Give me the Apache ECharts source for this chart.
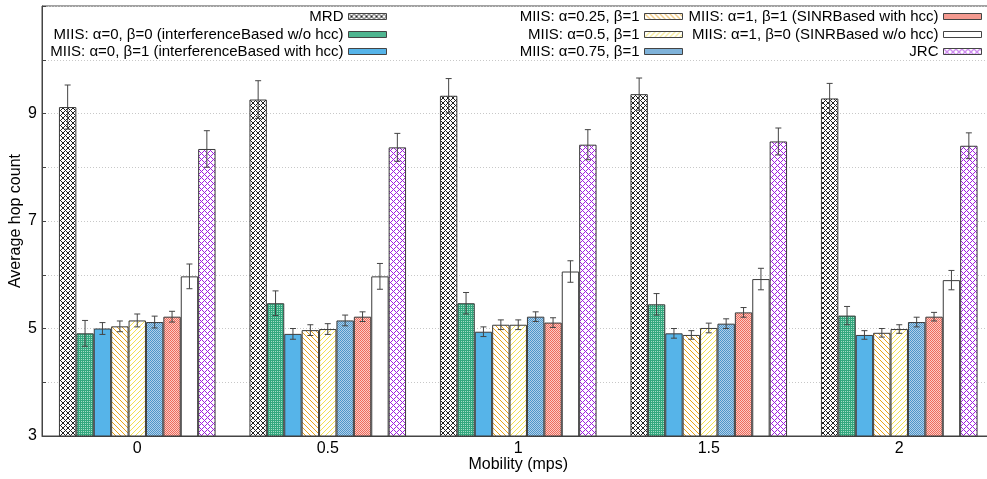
<!DOCTYPE html>
<html>
<head>
<meta charset="utf-8">
<script src="https://cdn.jsdelivr.net/npm/echarts@6/dist/echarts.min.js"></script>
<style>
html,body{margin:0;padding:0;background:#fff;}
#chart{width:987px;height:479px;}
</style>
</head>
<body>
<div id="chart"></div>
<script>
// ---- data ----
const categories = ['0', '0.5', '1', '1.5', '2'];
const yTickLabels = [3, 5, 7, 9];

const seriesNames = [
  'MRD',
  'MIIS: α=0, β=0 (interferenceBased w/o hcc)',
  'MIIS: α=0, β=1 (interferenceBased with hcc)',
  'MIIS: α=0.25, β=1',
  'MIIS: α=0.5, β=1',
  'MIIS: α=0.75, β=1',
  'MIIS: α=1, β=1 (SINRBased with hcc)',
  'MIIS: α=1, β=0 (SINRBased w/o hcc)',
  'JRC'
];

const mrd      = [9.12, 9.26, 9.33, 9.36, 9.28];
const mrdErr   = [0.41, 0.35, 0.32, 0.30, 0.28];
const a0b0     = [4.91, 5.47, 5.47, 5.45, 5.24];
const a0b0Err  = [0.24, 0.23, 0.20, 0.20, 0.17];
const a0b1     = [5.00, 4.90, 4.94, 4.91, 4.88];
const a0b1Err  = [0.11, 0.10, 0.09, 0.09, 0.08];
const a025     = [5.04, 4.97, 5.07, 4.88, 4.92];
const a025Err  = [0.10, 0.10, 0.09, 0.08, 0.08];
const a05      = [5.15, 4.99, 5.07, 5.01, 4.99];
const a05Err   = [0.12, 0.10, 0.09, 0.09, 0.08];
const a075     = [5.12, 5.15, 5.22, 5.09, 5.12];
const a075Err  = [0.11, 0.10, 0.09, 0.09, 0.09];
const a1b1     = [5.22, 5.22, 5.11, 5.30, 5.22];
const a1b1Err  = [0.10, 0.09, 0.09, 0.09, 0.08];
const a1b0     = [5.97, 5.97, 6.06, 5.92, 5.90];
const a1b0Err  = [0.23, 0.24, 0.20, 0.20, 0.18];
const jrc      = [8.34, 8.37, 8.42, 8.48, 8.40];
const jrcErr   = [0.34, 0.26, 0.28, 0.25, 0.24];

const values = [mrd, a0b0, a0b1, a025, a05, a075, a1b1, a1b0, jrc];
const errors = [mrdErr, a0b0Err, a0b1Err, a025Err, a05Err, a075Err, a1b1Err, a1b0Err, jrcErr];

// ---- patterns ----
function tile(n, fn) {
  const c = document.createElement('canvas');
  c.width = n; c.height = n;
  const ctx = c.getContext('2d');
  for (let x = 0; x < n; x++) for (let y = 0; y < n; y++) {
    const col = fn(x, y);
    if (col) { ctx.fillStyle = col; ctx.fillRect(x, y, 1, 1); }
  }
  return { image: c, repeat: 'repeat' };
}
const W = '#ffffff';
const patterns = [
  tile(5, (x, y) => ((x + y) % 5 === 0 || (x - y + 5) % 5 === 0) ? '#222222' : W),
  tile(2, (x, y) => (x === 1 && y === 1) ? '#a6dcc6' : '#33a87e'),
  '#56b4e9',
  tile(5, (x, y) => ((x - y + 5) % 5 === 0) ? '#e9a21a' : W),
  tile(5, (x, y) => ((x + y) % 5 === 0) ? '#f2df50' : W),
  tile(2, (x, y) => ((x + y) % 2 === 0) ? '#4f95c8' : '#b0d0ea'),
  tile(2, (x, y) => ((x + y) % 2 === 0) ? '#ee6a5c' : '#fbcbc4'),
  '#ffffff',
  tile(6, (x, y) => ((x + y) % 6 === 0 || (x - y + 6) % 6 === 0) ? '#a01ee0' : W)
];

const BAR_W = 17.4;
const FONT = 'Liberation Sans, Arial, sans-serif';

const barSeries = seriesNames.map((name, i) => ({
  name: name,
  type: 'bar',
  data: values[i],
  barWidth: BAR_W,
  barGap: '0%',
  itemStyle: { color: patterns[i], borderColor: '#3a3a3a', borderWidth: 1 },
  emphasis: { disabled: true },
  z: 2
}));

const errData = [];
values.forEach((arr, si) => arr.forEach((v, ci) => errData.push([ci, si, v, errors[si][ci]])));

const errSeries = {
  type: 'custom',
  name: 'err',
  data: errData,
  encode: { x: 0, y: 2 },
  z: 5,
  silent: true,
  renderItem: function (params, api) {
    const cat = api.value(0), si = api.value(1), v = api.value(2), e = api.value(3);
    const base = api.coord([cat, v]);
    const x = base[0] + (si - 4) * BAR_W;
    const top = api.coord([cat, v + e])[1];
    const bot = api.coord([cat, v - e])[1];
    const st = { stroke: '#444444', lineWidth: 1 };
    const cw = 3;
    return {
      type: 'group',
      children: [
        { type: 'line', shape: { x1: x, y1: top, x2: x, y2: bot }, style: st },
        { type: 'line', shape: { x1: x - cw, y1: top, x2: x + cw, y2: top }, style: st },
        { type: 'line', shape: { x1: x - cw, y1: bot, x2: x + cw, y2: bot }, style: st }
      ]
    };
  }
};

// legend: one component per entry, right-aligned text, swatch on the right
const legendPos = [
  { right: 600, top: 9 }, { right: 600, top: 27 }, { right: 600, top: 44 },
  { right: 304, top: 9 }, { right: 304, top: 27 }, { right: 304, top: 44 },
  { right: 5, top: 9 }, { right: 5, top: 27 }, { right: 5, top: 44 }
];
const legends = seriesNames.map((name, i) => ({
  data: [name],
  right: legendPos[i].right,
  top: legendPos[i].top,
  align: 'right',
  orient: 'vertical',
  padding: 0,
  itemWidth: 38,
  itemHeight: 6,
  icon: 'rect',
  selectedMode: false,
  itemStyle: { borderWidth: 1, borderColor: '#444444' },
  textStyle: { fontFamily: FONT, fontSize: 15, color: '#000' }
}));

const chart = echarts.init(document.getElementById('chart'), null, { renderer: 'canvas' });
chart.setOption({
  animation: false,
  backgroundColor: '#ffffff',
  legend: legends,
  grid: {
    left: 42, top: 6, bottom: 43, right: -7.5,
    show: true, borderColor: '#444444', borderWidth: 1,
    containLabel: false, outerBoundsMode: 'none'
  },
  xAxis: {
    type: 'category',
    data: categories,
    name: 'Mobility (mps)',
    nameLocation: 'middle',
    nameGap: 21,
    nameMoveOverlap: false,
    nameTextStyle: { fontFamily: FONT, fontSize: 16, color: '#000' },
    axisLine: { show: true, lineStyle: { color: '#444444' } },
    axisTick: { show: false },
    axisLabel: { fontFamily: FONT, fontSize: 16, color: '#000', margin: 5 },
    splitLine: { show: false }
  },
  yAxis: {
    type: 'value',
    min: 3, max: 11, interval: 1,
    name: 'Average hop count',
    nameLocation: 'middle',
    nameGap: 18,
    nameMoveOverlap: false,
    nameTextStyle: { fontFamily: FONT, fontSize: 16, color: '#000' },
    axisLine: { show: true, lineStyle: { color: '#444444' } },
    axisTick: { show: true, inside: true, length: 4, lineStyle: { color: '#444444' } },
    axisLabel: {
      fontFamily: FONT, fontSize: 16, color: '#000', margin: 5,
      formatter: v => (yTickLabels.indexOf(v) >= 0 ? String(v) : '')
    },
    splitLine: { show: true, lineStyle: { color: '#c8c8c8', type: [1, 2], width: 1 } }
  },
  series: barSeries.concat([errSeries])
});
</script>
</body>
</html>
